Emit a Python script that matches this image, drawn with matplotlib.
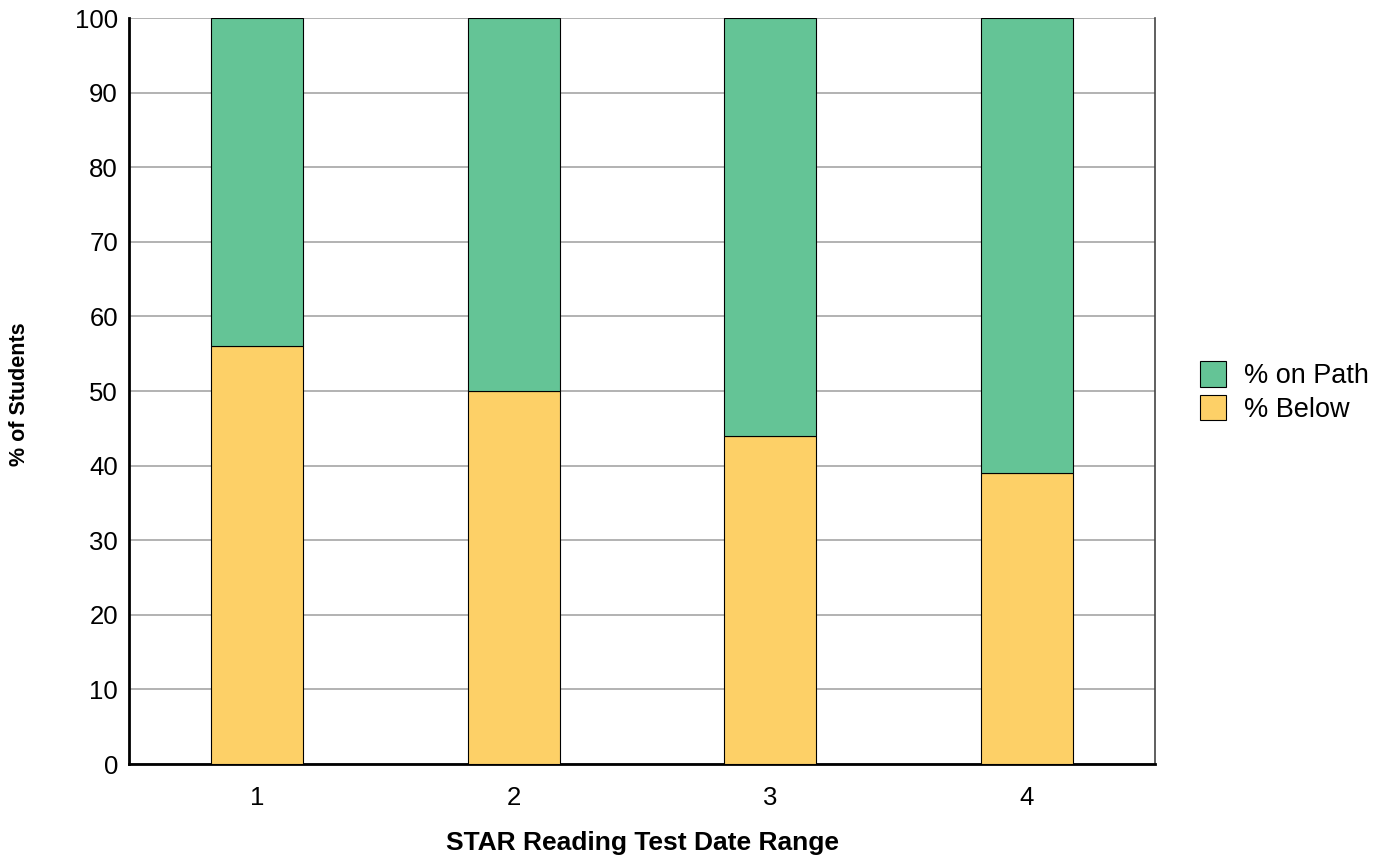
import numpy as np
import matplotlib.pyplot as plt
from matplotlib.patches import Patch

plt.rcParams['font.family'] = ['Liberation Sans', 'DejaVu Sans']

# data
categories = ['1', '2', '3', '4']
pct_below = [56, 50, 44, 39]
pct_on_path = [44, 50, 56, 61]

green = '#64c496'
yellow = '#fdd067'

fig = plt.figure(figsize=(13.92, 8.58), dpi=100)
ax = fig.add_axes([129 / 1392, 1 - 764 / 858, 1026 / 1392, 746 / 858])

x = np.arange(1, len(categories) + 1)
ax.bar(x, pct_below, width=0.36, color=yellow, edgecolor='black', linewidth=0.8, zorder=3)
ax.bar(x, pct_on_path, width=0.36, bottom=pct_below, color=green, edgecolor='black',
       linewidth=0.8, zorder=3)

ax.set_xlim(0.5, 4.5)
ax.set_ylim(0, 100)
ax.set_yticks(range(0, 101, 10))
ax.set_xticks(x)
ax.set_xticklabels(categories)
ax.yaxis.grid(True, color='#a6a6a6', linewidth=1.2, zorder=0)
ax.tick_params(axis='both', length=0, labelsize=18.5, pad=8)
ax.tick_params(axis='x', pad=16)

for s in ['left', 'bottom']:
    ax.spines[s].set_linewidth(2)
    ax.spines[s].set_color('black')
ax.spines['right'].set_color('#444444')
ax.spines['right'].set_linewidth(1.2)
ax.spines['top'].set_visible(False)

ax.set_xlabel('STAR Reading Test Date Range', fontsize=19, fontweight='bold', va='center')
ax.set_ylabel('% of Students', fontsize=15.5, fontweight='bold', va='center')
ax.xaxis.set_label_coords(0.5, (764 - 843) / 746)
ax.yaxis.set_label_coords((20 - 129) / 1026, (764 - 394) / 746)

handles = [Patch(facecolor=green, edgecolor='black', linewidth=0.8, label='% on Path'),
           Patch(facecolor=yellow, edgecolor='black', linewidth=0.8, label='% Below')]
fig.legend(handles=handles, loc='center left', bbox_to_anchor=(1176 / 1392, 1 - 392 / 858),
           frameon=False, fontsize=19.5, handlelength=0.95, handleheight=1.05,
           handletextpad=0.65, labelspacing=0.2)

fig.savefig('out.png', dpi=100)
